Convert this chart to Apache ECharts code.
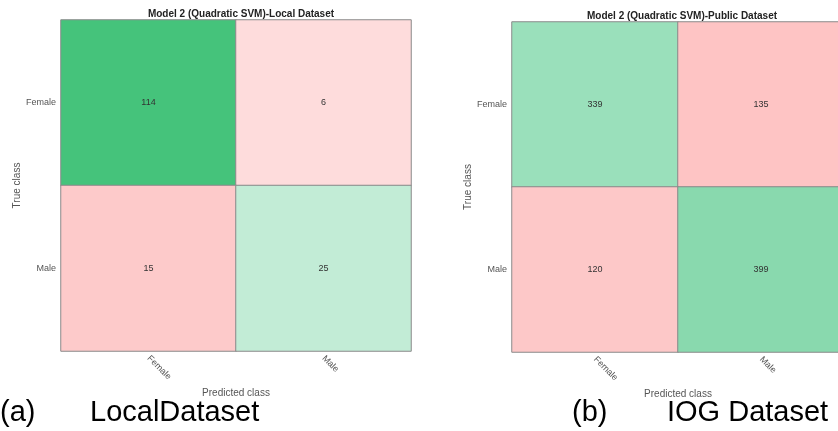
<!DOCTYPE html>
<html>
<head>
<meta charset="utf-8">
<script src="https://cdn.jsdelivr.net/npm/echarts@6/dist/echarts.min.js"></script>
<style>html,body{margin:0;padding:0;background:#fff}#c{width:838px;height:431px}</style>
</head>
<body>
<div id="c"></div>
<script>
// Data
const classes = ['Female', 'Male'];
const localTitle = 'Model 2 (Quadratic SVM)-Local Dataset';
const publicTitle = 'Model 2 (Quadratic SVM)-Public Dataset';
// rows = true class, cols = predicted class
const localMatrix = [[114, 6], [15, 25]];
const publicMatrix = [[339, 135], [120, 399]];
const captionA = ['(a)', 'LocalDataset'];
const captionB = ['(b)', 'IOG Dataset'];
const xName = 'Predicted class';
const yName = 'True class';

// Styles (separate from data)
const localColors = [['#45c37b', '#fedcdc'], ['#fdcaca', '#c2ecd6']];
const publicColors = [['#9ae0bb', '#fec4c4'], ['#fdc8c8', '#89d9ae']];
const FONT = 'Liberation Sans, Arial, sans-serif';

function cells(matrix, colors) {
  const out = [];
  matrix.forEach((row, r) => row.forEach((v, c) => {
    out.push({ value: [c, r, v], itemStyle: { color: colors[r][c] } });
  }));
  return out;
}

const chart = echarts.init(document.getElementById('c'), null, { renderer: 'canvas' });

const grids = [
  { left: 61, top: 20, width: 350, height: 331, outerBoundsMode: 'none', containLabel: false },
  { left: 512, top: 22, width: 332, height: 330, outerBoundsMode: 'none', containLabel: false }
];
const yGaps = [39, 37];

function xAxis(i) {
  return {
    type: 'category', gridIndex: i, data: classes,
    name: xName, nameLocation: 'middle', nameGap: 36,
    nameTextStyle: { color: '#555', fontSize: 10, fontFamily: FONT },
    axisLine: { show: false }, axisTick: { show: false }, splitLine: { show: false },
    axisLabel: { rotate: -45, color: '#555', fontSize: 9, fontFamily: FONT, margin: 6 }
  };
}
function yAxis(i) {
  return {
    type: 'category', gridIndex: i, data: classes, inverse: true,
    name: yName, nameLocation: 'middle', nameGap: yGaps[i],
    nameTextStyle: { color: '#555', fontSize: 10, fontFamily: FONT },
    axisLine: { show: false }, axisTick: { show: false }, splitLine: { show: false },
    axisLabel: { color: '#555', fontSize: 9, fontFamily: FONT, margin: 5 }
  };
}
function series(i, matrix, colors) {
  return {
    type: 'heatmap', xAxisIndex: i, yAxisIndex: i,
    data: cells(matrix, colors),
    label: { show: true, color: '#333', fontSize: 9, fontFamily: FONT, formatter: p => p.value[2] },
    itemStyle: { borderColor: '#8a8a8a', borderWidth: 1 },
    emphasis: { disabled: true }
  };
}

chart.setOption({
  animation: false,
  backgroundColor: '#fff',
  title: [
    { text: localTitle, left: 236, top: 4, textAlign: 'center',
      textStyle: { fontSize: 10, fontWeight: 'bold', color: '#222', fontFamily: FONT } },
    { text: publicTitle, left: 677, top: 6, textAlign: 'center',
      textStyle: { fontSize: 10, fontWeight: 'bold', color: '#222', fontFamily: FONT } }
  ],
  grid: grids,
  xAxis: [xAxis(0), xAxis(1)],
  yAxis: [yAxis(0), yAxis(1)],
  series: [series(0, localMatrix, localColors), series(1, publicMatrix, publicColors)],
  graphic: [
    { type: 'text', left: 0, top: 398, style: { text: captionA[0], fill: '#000', font: '29px ' + FONT } },
    { type: 'text', left: 90, top: 398, style: { text: captionA[1], fill: '#000', font: '29px ' + FONT } },
    { type: 'text', left: 572, top: 398, style: { text: captionB[0], fill: '#000', font: '29px ' + FONT } },
    { type: 'text', left: 667, top: 398, style: { text: captionB[1], fill: '#000', font: '29px ' + FONT } }
  ]
});
</script>
</body>
</html>
